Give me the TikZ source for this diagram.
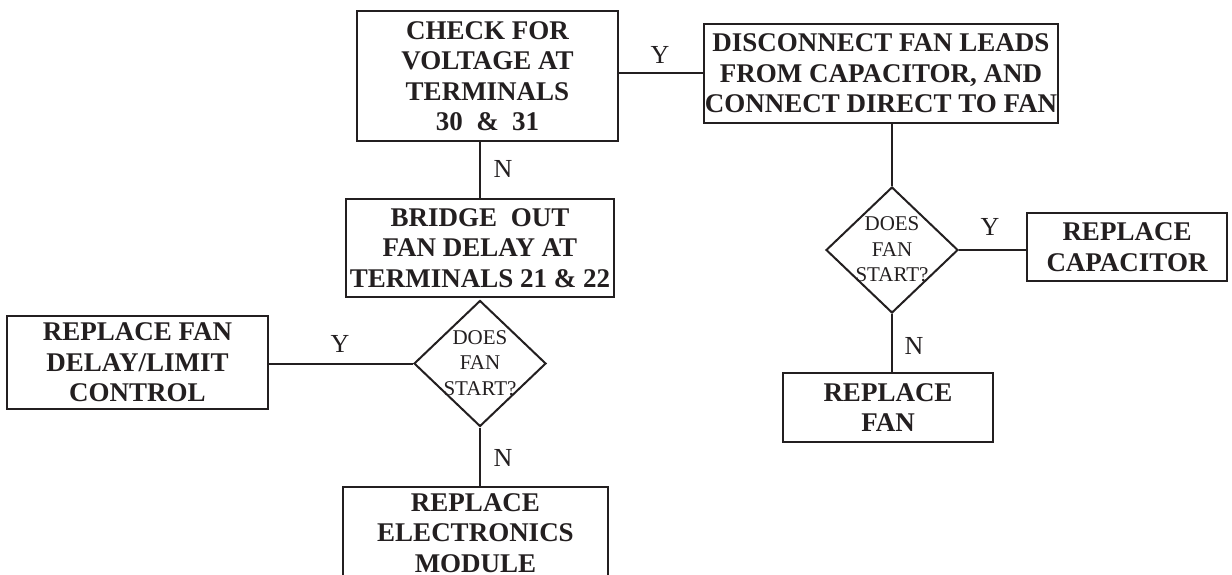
\documentclass[tikz,border=0pt]{standalone}
\usepackage{fontspec}
\setmainfont{Liberation Serif}
\usetikzlibrary{shapes.geometric}
\definecolor{ink}{RGB}{35,31,32}
\begin{document}
\begin{tikzpicture}[x=1pt,y=-1pt,
  box/.style={draw=ink, text=ink, line width=2pt, align=center, inner sep=0pt,
    font=\bfseries\fontsize{27}{30.5}\selectfont},
  dec/.style={diamond, draw=ink, line width=2pt, inner sep=0pt,
    minimum width=132pt, minimum height=126pt},
  dtext/.style={text=ink, align=center, inner sep=0pt,
    font=\fontsize{21}{25.5}\selectfont},
  lbl/.style={text=ink, inner sep=0pt, font=\fontsize{26}{26}\selectfont},
  conn/.style={draw=ink, line width=2pt}
]
\clip (0,0) rectangle (1232,575);
\fill[white] (0,0) rectangle (1232,575);

% boxes
\node[box, minimum width=261pt, minimum height=130pt] (b1) at (487.5,76)
  {CHECK FOR\\VOLTAGE AT\\TERMINALS\\30 \ \& \ 31};
\node[box, minimum width=354pt, minimum height=99pt] (b2) at (881,73.5)
  {DISCONNECT FAN LEADS\\FROM CAPACITOR, AND\\CONNECT DIRECT TO FAN};
\node[box, minimum width=268pt, minimum height=98pt] (br) at (480,248)
  {BRIDGE \ OUT\\FAN DELAY AT\\TERMINALS 21 \& 22};
\node[box, minimum width=261pt, minimum height=93pt] (lb) at (137.5,362.5)
  {REPLACE FAN\\DELAY/LIMIT\\CONTROL};
\node[box, minimum width=265pt, minimum height=92pt] (em) at (475.5,533)
  {REPLACE\\ELECTRONICS\\MODULE};
\node[box, minimum width=200pt, minimum height=68pt] (cap) at (1127,247)
  {REPLACE\\CAPACITOR};
\node[box, minimum width=210pt, minimum height=69pt] (fan) at (888,407.5)
  {REPLACE\\FAN};

% decisions
\node[dec] (d1) at (480,363.5) {};
\node[dtext] (d1t) at (480,363) {DOES\\FAN\\START?};
\node[dec] (d2) at (892,250) {};
\node[dtext] (d2t) at (892,249.5) {DOES\\FAN\\START?};

% connectors
\draw[conn] (b1.east |- b2.west) -- (b2.west);
\draw[conn] (br.north |- b1.south) -- (br.north);
\draw[conn] (d2.north |- b2.south) -- (d2.north);
\draw[conn] (lb.east |- d1.west) -- (d1.west);
\draw[conn] (d1.south) -- (em.north -| d1.south);
\draw[conn] (d2.east) -- (cap.west |- d2.east);
\draw[conn] (d2.south) -- (fan.north -| d2.south);

% labels
\node[lbl] (y1) at (660,55) {Y};
\node[lbl] (n1) at (503,169) {N};
\node[lbl] (y2) at (340,344) {Y};
\node[lbl] (n2) at (503,458) {N};
\node[lbl] (y3) at (990,227) {Y};
\node[lbl] (n3) at (914,346) {N};
\end{tikzpicture}
\end{document}
